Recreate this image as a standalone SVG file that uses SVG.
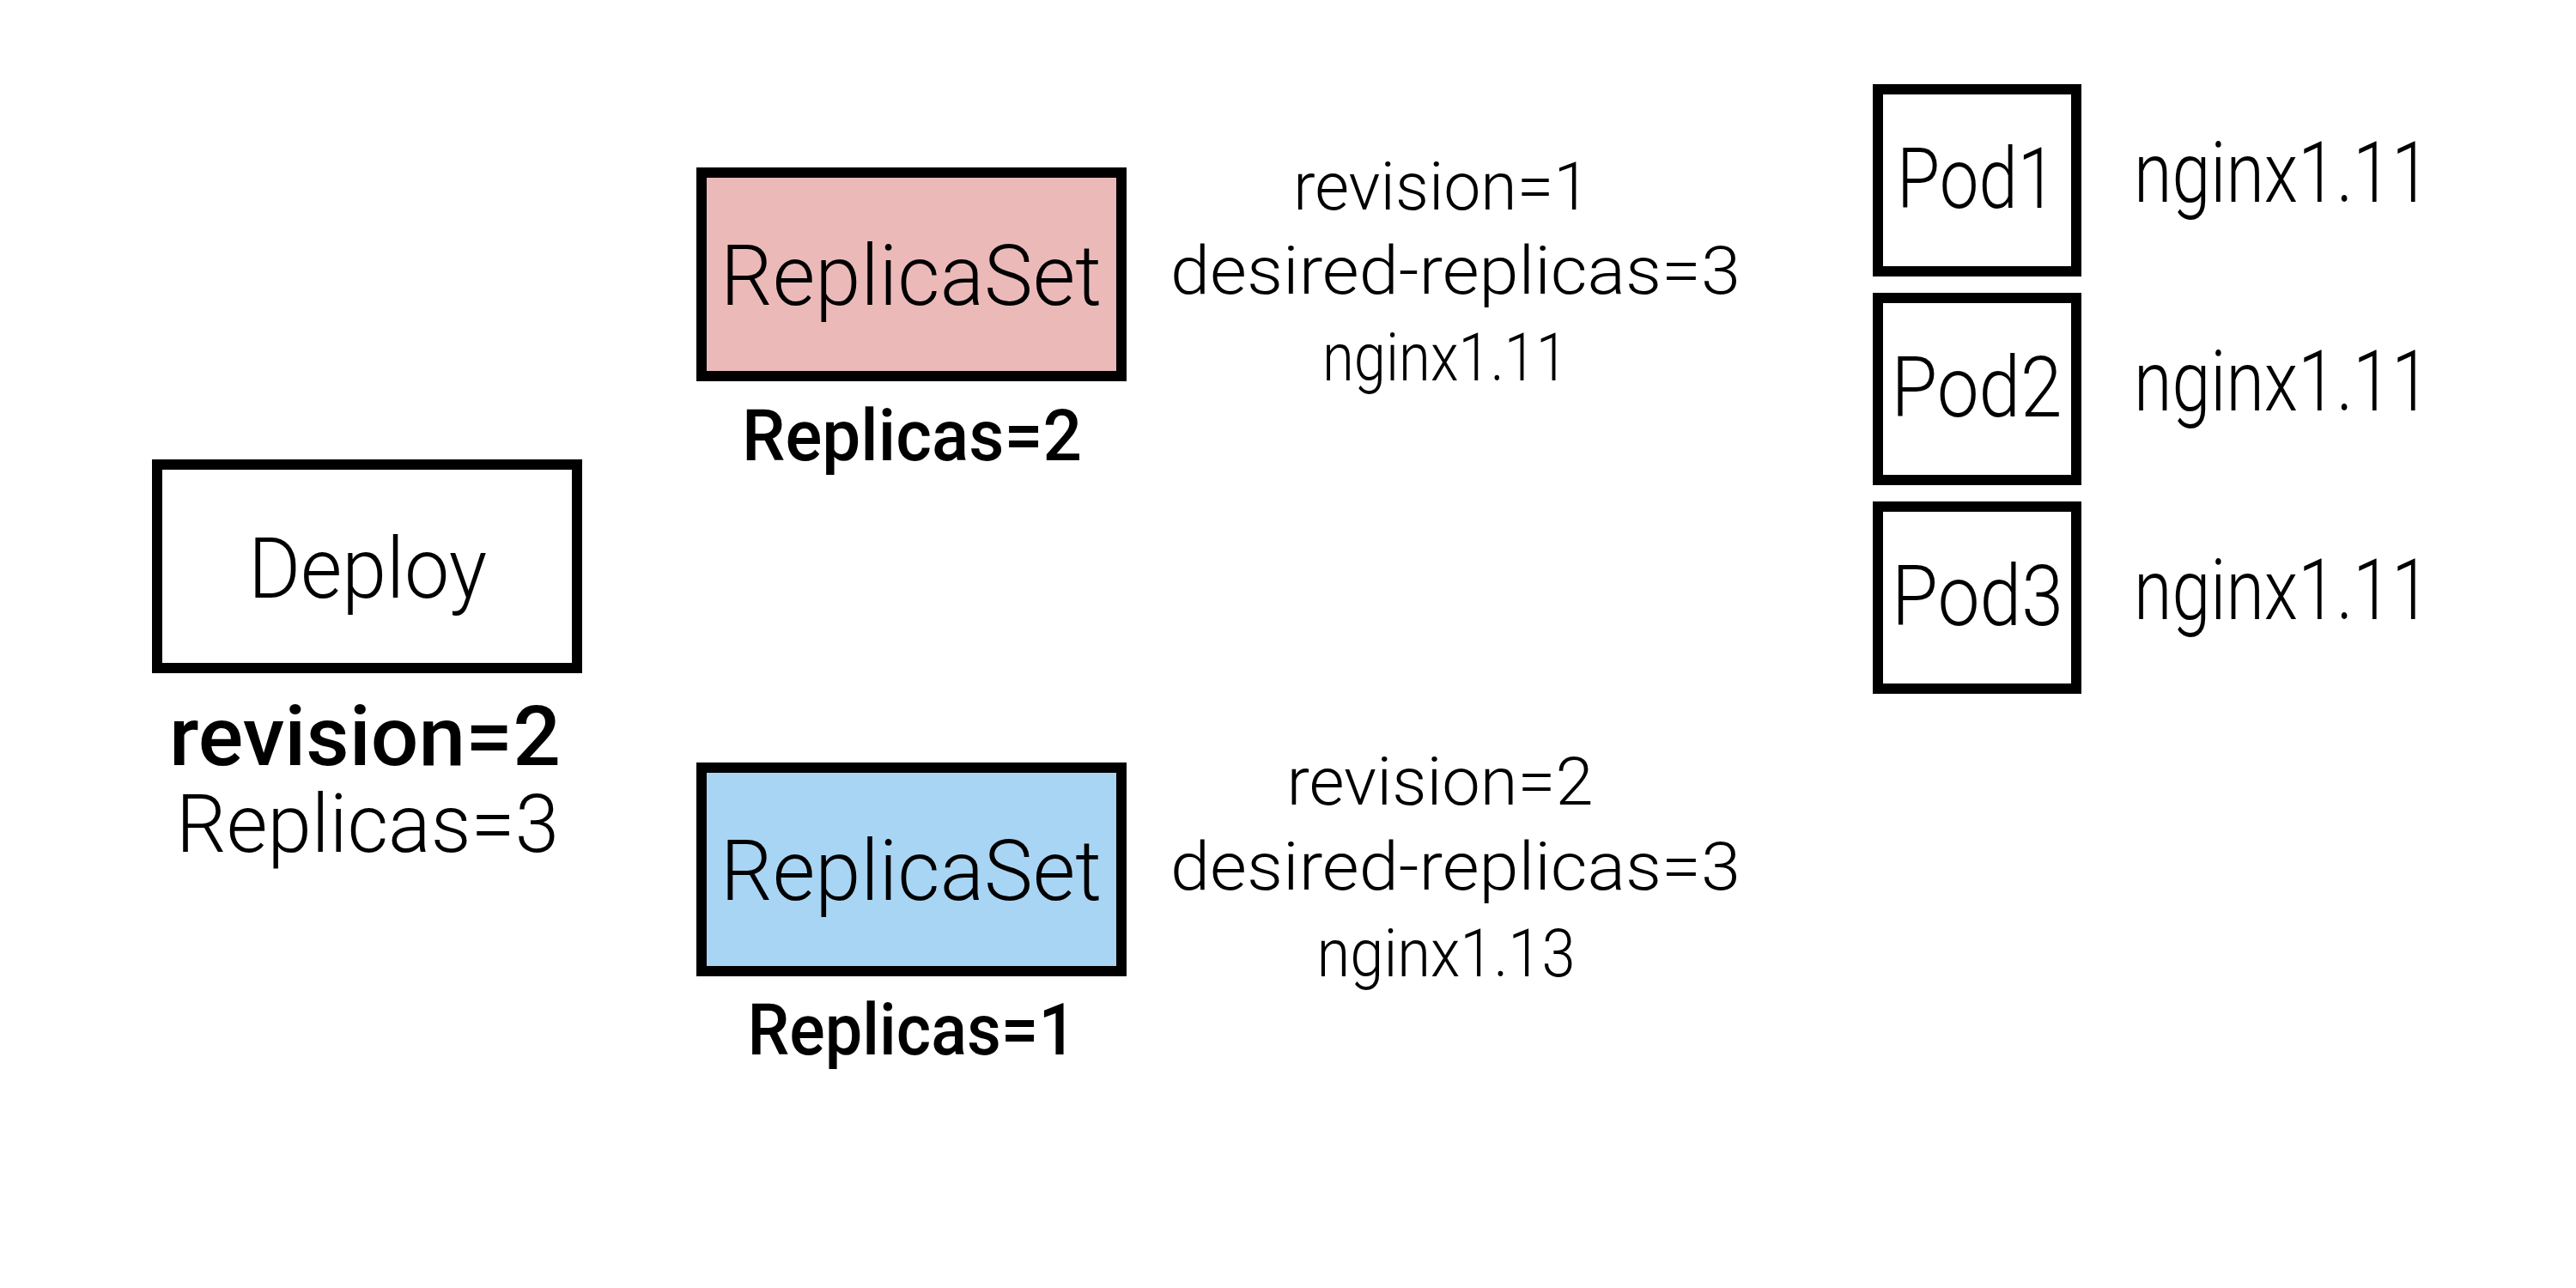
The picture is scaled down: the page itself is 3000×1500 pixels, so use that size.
<svg xmlns="http://www.w3.org/2000/svg" width="3000" height="1500" viewBox="0 0 3000 1500">
<style>
.box{stroke:#000;stroke-width:12;}
.t{font-family:Roboto,"DejaVu Sans","Liberation Sans",sans-serif;font-weight:300;fill:#000;text-anchor:middle;}
.b{font-weight:500;}
.l{text-anchor:start;}
</style>
<rect x="0" y="0" width="3000" height="1500" fill="#fff"/>
<g id="deploy">
<rect class="box" x="183" y="541" width="489" height="237" fill="#fff"/>
<text class="t" x="428" y="696" font-size="98" textLength="278" lengthAdjust="spacingAndGlyphs">Deploy</text>
<text class="t b" x="425" y="891" font-size="96" textLength="456" lengthAdjust="spacingAndGlyphs">revision=2</text>
<text class="t" x="428" y="992" font-size="94" textLength="446" lengthAdjust="spacingAndGlyphs">Replicas=3</text>
</g>
<g id="replicaset-old">
<rect class="box" x="817" y="201" width="489" height="237" fill="#ECB9B9"/>
<text class="t" x="1061" y="355" font-size="98" textLength="444" lengthAdjust="spacingAndGlyphs">ReplicaSet</text>
<text class="t b" x="1062" y="536" font-size="83" textLength="396" lengthAdjust="spacingAndGlyphs">Replicas=2</text>
<text class="t" x="1679" y="244" font-size="78" textLength="346" lengthAdjust="spacingAndGlyphs">revision=1</text>
<text class="t" x="1695" y="342" font-size="78" textLength="664" lengthAdjust="spacingAndGlyphs">desired-replicas=3</text>
<text class="t" x="1683" y="443" font-size="78" textLength="286" lengthAdjust="spacingAndGlyphs">nginx1.11</text>
</g>
<g id="replicaset-new">
<rect class="box" x="817" y="894" width="489" height="237" fill="#A9D5F4"/>
<text class="t" x="1061" y="1048" font-size="98" textLength="444" lengthAdjust="spacingAndGlyphs">ReplicaSet</text>
<text class="t b" x="1062" y="1228" font-size="83" textLength="383" lengthAdjust="spacingAndGlyphs">Replicas=1</text>
<text class="t" x="1677" y="937" font-size="78" textLength="357" lengthAdjust="spacingAndGlyphs">revision=2</text>
<text class="t" x="1695" y="1036" font-size="78" textLength="664" lengthAdjust="spacingAndGlyphs">desired-replicas=3</text>
<text class="t" x="1684" y="1137" font-size="78" textLength="301" lengthAdjust="spacingAndGlyphs">nginx1.13</text>
</g>
<g id="pod1">
<rect class="box" x="2187" y="104" width="231" height="212" fill="#fff"/>
<text class="t" x="2302" y="242" font-size="98" textLength="186" lengthAdjust="spacingAndGlyphs">Pod1</text>
<text class="t l" x="2485" y="235" font-size="98" textLength="345" lengthAdjust="spacingAndGlyphs">nginx1.11</text>
</g>
<g id="pod2">
<rect class="box" x="2187" y="347" width="231" height="212" fill="#fff"/>
<text class="t" x="2302" y="485" font-size="98" textLength="199" lengthAdjust="spacingAndGlyphs">Pod2</text>
<text class="t l" x="2485" y="478" font-size="98" textLength="345" lengthAdjust="spacingAndGlyphs">nginx1.11</text>
</g>
<g id="pod3">
<rect class="box" x="2187" y="590" width="231" height="212" fill="#fff"/>
<text class="t" x="2303" y="728" font-size="98" textLength="200" lengthAdjust="spacingAndGlyphs">Pod3</text>
<text class="t l" x="2485" y="721" font-size="98" textLength="345" lengthAdjust="spacingAndGlyphs">nginx1.11</text>
</g>
<g id="connectors"></g>
</svg>
